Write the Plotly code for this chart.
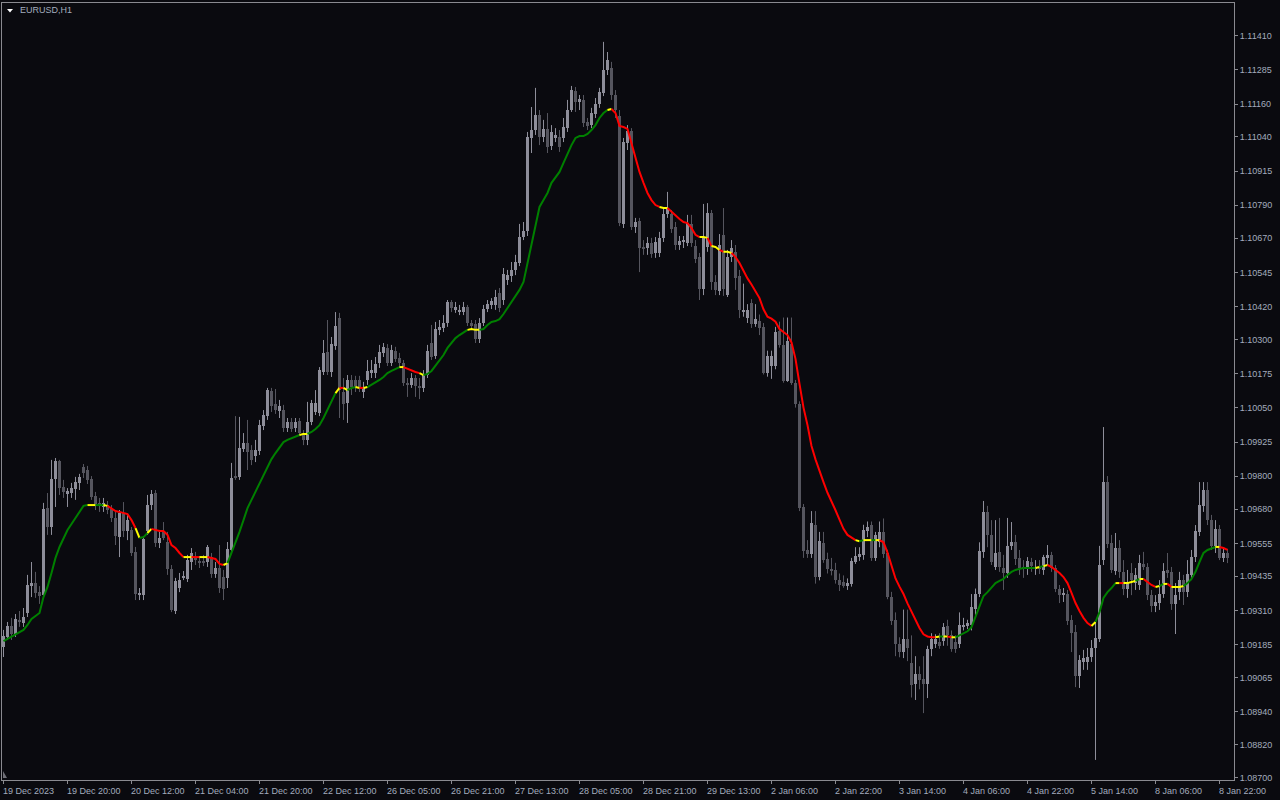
import plotly.graph_objects as go

# ---------------- data (EURUSD H1) ----------------
opens = [
 1.09177,1.09213,1.09253,1.09224,1.09275,1.09264,1.09301,1.09399,1.09410,1.09377,
 1.09366,1.09684,1.09615,1.09790,1.09856,1.09761,1.09739,1.09739,1.09754,1.09776,
 1.09834,1.09823,1.09790,1.09728,1.09703,1.09688,1.09695,1.09681,1.09648,1.09578,
 1.09666,1.09600,1.09604,1.09524,1.09366,1.09366,1.09600,1.09695,1.09739,1.09556,
 1.09597,1.09560,1.09461,1.09308,1.09392,1.09429,1.09425,1.09487,1.09505,1.09491,
 1.09491,1.09487,1.09505,1.09443,1.09465,1.09433,1.09429,1.09531,1.09798,1.09798,
 1.09900,1.09922,1.09896,1.09874,1.09893,1.09984,1.10020,1.10112,1.10064,1.10039,
 1.10042,1.09977,1.09998,1.09977,1.10002,1.09958,1.09933,1.09998,1.10035,1.10031,
 1.10181,1.10254,1.10181,1.10276,1.10378,1.10108,1.10068,1.10152,1.10152,1.10152,
 1.10108,1.10152,1.10181,1.10177,1.10214,1.10251,1.10269,1.10214,1.10258,1.10232,
 1.10214,1.10141,1.10134,1.10159,1.10130,1.10123,1.10170,1.10287,1.10240,1.10335,
 1.10342,1.10360,1.10437,1.10408,1.10400,1.10400,1.10419,1.10360,1.10356,1.10302,
 1.10360,1.10411,1.10426,1.10426,1.10470,1.10444,1.10517,1.10532,1.10554,1.10579,
 1.10674,1.10696,1.11036,1.11065,1.11120,1.11040,1.11069,1.11007,1.11036,1.11040,
 1.11036,1.11072,1.11138,1.11208,1.11167,1.11175,1.11094,1.11083,1.11124,1.11160,
 1.11200,1.11284,1.11292,1.11193,1.11116,1.10722,1.11018,1.11061,1.10711,1.10733,
 1.10638,1.10634,1.10652,1.10616,1.10616,1.10671,1.10758,1.10758,1.10711,1.10645,
 1.10656,1.10652,1.10722,1.10641,1.10601,1.10484,1.10638,1.10762,1.10510,1.10477,
 1.10682,1.10462,1.10601,1.10620,1.10532,1.10399,1.10380,1.10433,1.10356,1.10369,
 1.10346,1.10179,1.10202,1.10202,1.10330,1.10278,1.10149,1.10285,1.10142,1.10065,
 1.09688,1.09532,1.09518,1.09623,1.09431,1.09555,1.09499,1.09461,1.09457,1.09423,
 1.09415,1.09401,1.09408,1.09488,1.09506,1.09514,1.09601,1.09623,1.09502,1.09559,
 1.09597,1.09521,1.09359,1.09276,1.09189,1.09159,1.09207,1.09117,1.09042,1.09079,
 1.09060,1.09042,1.09170,1.09189,1.09196,1.09200,1.09253,1.09219,1.09193,1.09189,
 1.09249,1.09253,1.09257,1.09317,1.09370,1.09525,1.09669,1.09586,1.09469,1.09524,
 1.09465,1.09447,1.09546,1.09560,1.09502,1.09469,1.09465,1.09487,1.09461,1.09469,
 1.09458,1.09502,1.09513,1.09465,1.09388,1.09366,1.09370,1.09275,1.09231,1.09071,
 1.09122,1.09122,1.09140,1.09173,1.09206,1.09494,1.09779,1.09556,1.09454,1.09538,
 1.09451,1.09388,1.09447,1.09410,1.09403,1.09480,1.09469,1.09366,1.09326,1.09337,
 1.09370,1.09458,1.09451,1.09334,1.09377,1.09421,1.09377,1.09440,1.09505,1.09597,
 1.09692,1.09750,1.09640,1.09546,1.09608,1.09502,1.09520,
]
highs = [
 1.09239,1.09268,1.09283,1.09297,1.09308,1.09319,1.09440,1.09487,1.09451,1.09399,
 1.09703,1.09739,1.09860,1.09867,1.09860,1.09787,1.09757,1.09776,1.09798,1.09809,
 1.09845,1.09838,1.09801,1.09743,1.09721,1.09721,1.09710,1.09695,1.09670,1.09677,
 1.09706,1.09659,1.09615,1.09542,1.09392,1.09582,1.09732,1.09750,1.09750,1.09604,
 1.09633,1.09597,1.09476,1.09429,1.09447,1.09454,1.09513,1.09538,1.09524,1.09509,
 1.09513,1.09549,1.09520,1.09487,1.09549,1.09458,1.09560,1.09849,1.10020,1.10017,
 1.09958,1.10006,1.09914,1.09933,1.10006,1.10042,1.10123,1.10123,1.10119,1.10079,
 1.10061,1.10013,1.10013,1.10013,1.10013,1.09969,1.10072,1.10079,1.10115,1.10199,
 1.10298,1.10371,1.10309,1.10400,1.10397,1.10159,1.10170,1.10170,1.10167,1.10167,
 1.10145,1.10225,1.10225,1.10236,1.10280,1.10287,1.10283,1.10280,1.10273,1.10251,
 1.10225,1.10159,1.10177,1.10170,1.10159,1.10188,1.10280,1.10353,1.10364,1.10371,
 1.10389,1.10444,1.10444,1.10437,1.10426,1.10437,1.10426,1.10371,1.10371,1.10378,
 1.10426,1.10444,1.10451,1.10481,1.10488,1.10561,1.10554,1.10583,1.10609,1.10722,
 1.10729,1.11058,1.11149,1.11219,1.11138,1.11102,1.11127,1.11083,1.11072,1.11065,
 1.11109,1.11175,1.11226,1.11222,1.11193,1.11193,1.11109,1.11146,1.11182,1.11219,
 1.11387,1.11350,1.11314,1.11211,1.11138,1.11036,1.11083,1.11072,1.10744,1.10744,
 1.10663,1.10674,1.10671,1.10674,1.10693,1.10780,1.10839,1.10773,1.10729,1.10678,
 1.10678,1.10755,1.10755,1.10663,1.10616,1.10795,1.10798,1.10773,1.10535,1.10685,
 1.10780,1.10627,1.10663,1.10645,1.10554,1.10504,1.10429,1.10447,1.10429,1.10391,
 1.10360,1.10259,1.10259,1.10346,1.10365,1.10380,1.10380,1.10380,1.10152,1.10074,
 1.09699,1.09567,1.09673,1.09673,1.09597,1.09597,1.09521,1.09502,1.09484,1.09445,
 1.09438,1.09427,1.09502,1.09541,1.09541,1.09623,1.09635,1.09635,1.09597,1.09635,
 1.09646,1.09532,1.09378,1.09303,1.09212,1.09313,1.09313,1.09219,1.09143,1.09106,
 1.09143,1.09181,1.09227,1.09223,1.09227,1.09264,1.09276,1.09237,1.09219,1.09303,
 1.09283,1.09276,1.09370,1.09390,1.09559,1.09710,1.09692,1.09640,1.09640,1.09648,
 1.09513,1.09648,1.09633,1.09586,1.09531,1.09494,1.09505,1.09502,1.09494,1.09494,
 1.09513,1.09549,1.09524,1.09476,1.09403,1.09392,1.09385,1.09293,1.09257,1.09147,
 1.09166,1.09173,1.09202,1.09268,1.09546,1.09980,1.09801,1.09586,1.09593,1.09567,
 1.09494,1.09458,1.09483,1.09465,1.09513,1.09524,1.09483,1.09385,1.09366,1.09421,
 1.09483,1.09520,1.09469,1.09410,1.09451,1.09440,1.09494,1.09531,1.09622,1.09779,
 1.09779,1.09779,1.09659,1.09640,1.09622,1.09538,1.09535,
]
lows = [
 1.09140,1.09202,1.09202,1.09213,1.09250,1.09250,1.09286,1.09359,1.09356,1.09334,
 1.09356,1.09586,1.09586,1.09688,1.09732,1.09721,1.09688,1.09721,1.09714,1.09750,
 1.09794,1.09772,1.09714,1.09677,1.09670,1.09670,1.09662,1.09633,1.09549,1.09505,
 1.09578,1.09567,1.09509,1.09348,1.09348,1.09348,1.09586,1.09677,1.09542,1.09538,
 1.09567,1.09440,1.09304,1.09297,1.09377,1.09421,1.09414,1.09458,1.09476,1.09465,
 1.09472,1.09469,1.09429,1.09429,1.09374,1.09348,1.09392,1.09520,1.09787,1.09787,
 1.09889,1.09823,1.09841,1.09852,1.09878,1.09969,1.10006,1.10035,1.10028,1.10013,
 1.09962,1.09962,1.09962,1.09962,1.09947,1.09914,1.09914,1.09987,1.10024,1.10020,
 1.10170,1.10170,1.10163,1.10262,1.10013,1.10006,1.09995,1.10097,1.10108,1.10108,
 1.10086,1.10134,1.10159,1.10159,1.10196,1.10236,1.10203,1.10203,1.10218,1.10196,
 1.10130,1.10090,1.10123,1.10090,1.10082,1.10108,1.10159,1.10225,1.10229,1.10316,
 1.10327,1.10346,1.10400,1.10397,1.10389,1.10389,1.10349,1.10335,1.10287,1.10287,
 1.10349,1.10400,1.10411,1.10408,1.10400,1.10426,1.10499,1.10510,1.10535,1.10568,
 1.10663,1.10678,1.10981,1.11047,1.11010,1.11021,1.10981,1.10992,1.11021,1.10985,
 1.11021,1.11058,1.11131,1.11131,1.11138,1.11076,1.11065,1.11072,1.11109,1.11146,
 1.11189,1.11266,1.11175,1.11109,1.10714,1.10707,1.10992,1.10700,1.10689,1.10546,
 1.10609,1.10609,1.10598,1.10598,1.10601,1.10656,1.10744,1.10689,1.10627,1.10627,
 1.10634,1.10641,1.10638,1.10579,1.10444,1.10462,1.10620,1.10481,1.10462,1.10462,
 1.10459,1.10455,1.10583,1.10481,1.10378,1.10383,1.10360,1.10342,1.10346,1.10316,
 1.10172,1.10164,1.10156,1.10191,1.10270,1.10142,1.10145,1.10134,1.10051,1.09673,
 1.09502,1.09502,1.09502,1.09408,1.09420,1.09484,1.09445,1.09438,1.09408,1.09381,
 1.09393,1.09385,1.09397,1.09480,1.09491,1.09495,1.09578,1.09491,1.09491,1.09541,
 1.09502,1.09351,1.09257,1.09143,1.09139,1.09136,1.09125,1.08992,1.08983,1.09022,
 1.08935,1.08990,1.09143,1.09173,1.09170,1.09181,1.09181,1.09159,1.09155,1.09173,
 1.09237,1.09242,1.09237,1.09294,1.09359,1.09502,1.09541,1.09476,1.09458,1.09451,
 1.09385,1.09429,1.09531,1.09476,1.09440,1.09429,1.09440,1.09451,1.09440,1.09443,
 1.09440,1.09476,1.09451,1.09377,1.09337,1.09341,1.09257,1.09158,1.09030,1.09027,
 1.09093,1.09093,1.09122,1.08764,1.09195,1.09476,1.09538,1.09447,1.09440,1.09429,
 1.09366,1.09356,1.09366,1.09385,1.09385,1.09458,1.09348,1.09304,1.09304,1.09312,
 1.09356,1.09429,1.09312,1.09224,1.09348,1.09330,1.09359,1.09421,1.09487,1.09582,
 1.09670,1.09622,1.09531,1.09520,1.09494,1.09487,1.09483,
]
closes = [
 1.09217,1.09253,1.09224,1.09279,1.09268,1.09286,1.09403,1.09410,1.09374,1.09363,
 1.09681,1.09615,1.09790,1.09856,1.09757,1.09743,1.09746,1.09757,1.09779,1.09798,
 1.09812,1.09787,1.09725,1.09699,1.09695,1.09703,1.09677,1.09648,1.09582,1.09666,
 1.09600,1.09640,1.09520,1.09370,1.09374,1.09571,1.09695,1.09735,1.09556,1.09575,
 1.09575,1.09461,1.09312,1.09418,1.09421,1.09433,1.09494,1.09520,1.09494,1.09483,
 1.09487,1.09542,1.09443,1.09465,1.09392,1.09388,1.09535,1.09794,1.09794,1.09904,
 1.09922,1.09889,1.09860,1.09896,1.09987,1.10024,1.10115,1.10057,1.10042,1.10057,
 1.09977,1.09998,1.09973,1.09998,1.09958,1.09933,1.09998,1.10068,1.10068,1.10188,
 1.10251,1.10181,1.10283,1.10349,1.10115,1.10064,1.10152,1.10126,1.10126,1.10123,
 1.10123,1.10185,1.10188,1.10210,1.10254,1.10273,1.10214,1.10262,1.10229,1.10214,
 1.10141,1.10134,1.10159,1.10130,1.10123,1.10170,1.10258,1.10236,1.10338,1.10346,
 1.10360,1.10437,1.10415,1.10419,1.10408,1.10419,1.10360,1.10349,1.10302,1.10360,
 1.10411,1.10430,1.10440,1.10455,1.10415,1.10539,1.10535,1.10554,1.10583,1.10674,
 1.10696,1.11040,1.11065,1.11120,1.11040,1.11069,1.11003,1.11058,1.11047,1.11003,
 1.11076,1.11138,1.11211,1.11167,1.11178,1.11091,1.11080,1.11127,1.11160,1.11204,
 1.11284,1.11321,1.11193,1.11138,1.10725,1.11021,1.11061,1.10711,1.10729,1.10634,
 1.10634,1.10652,1.10612,1.10656,1.10671,1.10758,1.10777,1.10704,1.10645,1.10660,
 1.10660,1.10725,1.10652,1.10594,1.10484,1.10674,1.10762,1.10510,1.10481,1.10645,
 1.10484,1.10601,1.10634,1.10525,1.10408,1.10407,1.10407,1.10356,1.10376,1.10342,
 1.10179,1.10240,1.10240,1.10327,1.10278,1.10149,1.10293,1.10142,1.10065,1.09685,
 1.09529,1.09518,1.09628,1.09431,1.09563,1.09495,1.09461,1.09457,1.09423,1.09404,
 1.09401,1.09411,1.09491,1.09510,1.09518,1.09605,1.09616,1.09502,1.09586,1.09597,
 1.09518,1.09359,1.09272,1.09189,1.09159,1.09207,1.09173,1.09038,1.09079,1.09056,
 1.09042,1.09170,1.09207,1.09204,1.09181,1.09249,1.09219,1.09170,1.09170,1.09257,
 1.09257,1.09264,1.09321,1.09370,1.09529,1.09669,1.09586,1.09487,1.09520,1.09469,
 1.09447,1.09546,1.09560,1.09498,1.09465,1.09461,1.09491,1.09472,1.09469,1.09461,
 1.09505,1.09513,1.09465,1.09388,1.09366,1.09374,1.09271,1.09228,1.09071,1.09129,
 1.09136,1.09140,1.09173,1.09209,1.09476,1.09779,1.09553,1.09458,1.09538,1.09451,
 1.09388,1.09410,1.09421,1.09440,1.09483,1.09469,1.09366,1.09326,1.09341,1.09370,
 1.09454,1.09447,1.09334,1.09366,1.09421,1.09377,1.09443,1.09505,1.09600,1.09695,
 1.09750,1.09640,1.09546,1.09608,1.09502,1.09520,1.09502,
]
# smoothed trend line drawn over the candles
ma_values = [
 1.09198,1.09206,1.09213,1.09220,1.09228,1.09239,1.09257,1.09279,1.09290,1.09301,
 1.09359,1.09396,1.09447,1.09502,1.09542,1.09575,1.09604,1.09626,1.09648,1.09670,
 1.09692,1.09695,1.09695,1.09695,1.09695,1.09695,1.09692,1.09684,1.09673,1.09670,
 1.09666,1.09662,1.09640,1.09611,1.09575,1.09578,1.09593,1.09608,1.09604,1.09600,
 1.09600,1.09586,1.09549,1.09538,1.09520,1.09505,1.09505,1.09505,1.09505,1.09505,
 1.09505,1.09505,1.09502,1.09498,1.09480,1.09476,1.09483,1.09520,1.09556,1.09597,
 1.09640,1.09684,1.09714,1.09743,1.09772,1.09801,1.09834,1.09863,1.09885,1.09907,
 1.09925,1.09933,1.09940,1.09944,1.09951,1.09955,1.09955,1.09962,1.09973,1.09987,
 1.10013,1.10042,1.10072,1.10104,1.10123,1.10123,1.10115,1.10123,1.10126,1.10123,
 1.10123,1.10126,1.10134,1.10141,1.10152,1.10163,1.10177,1.10185,1.10192,1.10199,
 1.10199,1.10192,1.10185,1.10181,1.10177,1.10170,1.10174,1.10185,1.10203,1.10225,
 1.10243,1.10269,1.10287,1.10305,1.10316,1.10327,1.10335,1.10338,1.10335,1.10335,
 1.10338,1.10353,1.10364,1.10367,1.10374,1.10393,1.10415,1.10433,1.10455,1.10481,
 1.10510,1.10579,1.10652,1.10725,1.10784,1.10809,1.10835,1.10872,1.10890,1.10912,
 1.10945,1.10981,1.11010,1.11036,1.11043,1.11043,1.11051,1.11065,1.11083,1.11109,
 1.11127,1.11138,1.11142,1.11127,1.11080,1.11076,1.11069,1.11018,1.10963,1.10912,
 1.10872,1.10835,1.10809,1.10791,1.10784,1.10780,1.10780,1.10766,1.10751,1.10740,
 1.10729,1.10725,1.10707,1.10682,1.10674,1.10674,1.10671,1.10641,1.10638,1.10627,
 1.10620,1.10620,1.10616,1.10601,1.10579,1.10550,1.10523,1.10501,1.10478,1.10451,
 1.10410,1.10383,1.10376,1.10365,1.10338,1.10327,1.10316,1.10289,1.10229,1.10138,
 1.10051,1.09987,1.09911,1.09862,1.09816,1.09779,1.09740,1.09710,1.09676,1.09642,
 1.09608,1.09586,1.09575,1.09567,1.09563,1.09567,1.09567,1.09567,1.09567,1.09567,
 1.09559,1.09521,1.09477,1.09427,1.09397,1.09370,1.09336,1.09306,1.09276,1.09246,
 1.09223,1.09215,1.09212,1.09212,1.09215,1.09215,1.09215,1.09212,1.09212,1.09219,
 1.09227,1.09234,1.09249,1.09287,1.09332,1.09363,1.09377,1.09392,1.09410,1.09418,
 1.09425,1.09440,1.09451,1.09458,1.09461,1.09465,1.09465,1.09465,1.09465,1.09469,
 1.09472,1.09476,1.09469,1.09458,1.09447,1.09432,1.09410,1.09374,1.09337,1.09308,
 1.09283,1.09264,1.09253,1.09268,1.09304,1.09356,1.09377,1.09392,1.09410,1.09410,
 1.09410,1.09410,1.09414,1.09418,1.09425,1.09425,1.09414,1.09403,1.09396,1.09399,
 1.09407,1.09407,1.09396,1.09396,1.09396,1.09399,1.09410,1.09425,1.09451,1.09487,
 1.09520,1.09531,1.09538,1.09542,1.09542,1.09538,1.09531,
]
# colour state of the trend line per bar: G = rising, R = falling, Y = flat / turning
trend_runs = [
 ("G",22),("Y",2),("G",2),("Y",1),("R",7),("Y",1),("G",2),("Y",1),("R",8),("Y",2),
 ("R",2),("Y",2),("R",4),("Y",1),("G",18),("Y",2),("G",7),("Y",1),("R",1),("Y",1),
 ("G",2),("Y",1),("R",1),("Y",1),("G",8),("Y",1),("R",4),("Y",1),("G",11),("Y",3),
 ("G",32),("Y",1),("R",12),("Y",2),("R",8),("Y",2),("R",1),("Y",2),("R",1),("Y",2),
 ("R",31),("Y",1),("G",1),("Y",2),("G",1),("Y",1),("R",14),("Y",1),("G",1),("Y",1),
 ("R",1),("Y",1),("G",20),("Y",1),("G",1),("Y",1),("R",11),("Y",1),("G",5),("Y",1),
 ("R",1),("Y",3),("G",1),("Y",1),("R",3),("Y",1),("G",1),("Y",1),("R",1),("Y",3),
 ("G",8),("Y",1),("R",2),
]
x_tick_bars = [0,16,32,48,64,80,96,112,128,144,160,176,192,208,224,240,256,272,288,304]
x_tick_labels = ["19 Dec 2023","19 Dec 20:00","20 Dec 12:00","21 Dec 04:00","21 Dec 20:00",
                 "22 Dec 12:00","26 Dec 05:00","26 Dec 21:00","27 Dec 13:00","28 Dec 05:00",
                 "28 Dec 21:00","29 Dec 13:00","2 Jan 06:00","2 Jan 22:00","3 Jan 14:00",
                 "4 Jan 06:00","4 Jan 22:00","5 Jan 14:00","8 Jan 06:00","8 Jan 22:00"]
y_tick_labels = ["1.11410","1.11285","1.11160","1.11040","1.10915","1.10790","1.10670",
                 "1.10545","1.10420","1.10300","1.10175","1.10050","1.09925","1.09800",
                 "1.09680","1.09555","1.09435","1.09310","1.09185","1.09065","1.08940",
                 "1.08820","1.08700"]
symbol_title = "EURUSD,H1"

# ---------------- styling ----------------
BG = "#0a0a0f"
BULL = "#8e8e9a"
BEAR = "#55555e"
FRAME = "#8a8a90"
TXT = "#a3acbd"
FONT = "Liberation Sans, Arial, sans-serif"
LINE_COL = {"G": "#008000", "R": "#ff0000", "Y": "#ffff00"}

n = min(len(opens), len(highs), len(lows), len(closes))
MIN_BODY = 0.00003

fig = go.Figure()

# wicks
for is_bull, col in ((True, BULL), (False, BEAR)):
    wx, wy = [], []
    for i in range(n):
        if (closes[i] >= opens[i]) == is_bull:
            wx += [i, i, None]
            wy += [lows[i], highs[i], None]
    fig.add_trace(go.Scatter(x=wx, y=wy, mode="lines", line=dict(color=col, width=1),
                             hoverinfo="skip", showlegend=False))

# bodies
for is_bull, col in ((True, BULL), (False, BEAR)):
    bx, base, hgt = [], [], []
    for i in range(n):
        if (closes[i] >= opens[i]) == is_bull:
            lo = min(opens[i], closes[i])
            h = abs(closes[i] - opens[i])
            if h < MIN_BODY:
                lo -= (MIN_BODY - h) / 2
                h = MIN_BODY
            bx.append(i); base.append(lo); hgt.append(h)
    fig.add_trace(go.Bar(x=bx, y=hgt, base=base, width=0.75, marker=dict(color=col, line=dict(width=0)),
                         hoverinfo="skip", showlegend=False))

# trend line segments
state = []
for code, cnt in trend_runs:
    state += [code] * cnt
m = min(len(ma_values), len(state))
i = 1
while i < m:
    c = state[i]
    j = i
    while j + 1 < m and state[j + 1] == c:
        j += 1
    xs = list(range(i - 1, j + 1))
    fig.add_trace(go.Scatter(x=xs, y=[ma_values[k] for k in xs], mode="lines",
                             line=dict(color=LINE_COL[c], width=2), hoverinfo="skip", showlegend=False))
    i = j + 1

# x labels (left aligned at their tick like the terminal does)
annotations = []
for b, t in zip(x_tick_bars, x_tick_labels):
    annotations.append(dict(x=b, y=0, xref="x", yref="paper", text=t, showarrow=False,
                            xanchor="left", yanchor="top", xshift=-3, yshift=-4,
                            font=dict(family=FONT, size=9, color=TXT)))
annotations.append(dict(x=16 / 1232, y=0.9905, xref="paper", yref="paper", text=symbol_title,
                        showarrow=False, xanchor="left", yanchor="middle",
                        font=dict(family=FONT, size=9, color=TXT)))

shapes = [
    dict(type="path", xref="paper", yref="paper",
         path="M 0.00406 0.99228 L 0.00893 0.99228 L 0.00649 0.98777 Z",
         fillcolor="#ffffff", line=dict(width=0)),
    dict(type="path", xref="paper", yref="paper",
         path="M 0.0008 0.0116 L 0.0008 0.0026 L 0.0041 0.0026 Z",
         fillcolor="#707078", line=dict(width=0)),
]

fig.update_layout(
    width=1280, height=800,
    margin=dict(l=2, r=46, t=3, b=20),
    paper_bgcolor=BG, plot_bgcolor=BG,
    showlegend=False, barmode="overlay", bargap=0,
    annotations=annotations, shapes=shapes,
    xaxis=dict(range=[-0.375, 307.625], showgrid=False, zeroline=False,
               showline=True, mirror=True, linecolor=FRAME, linewidth=1,
               ticks="outside", ticklen=3, tickcolor=FRAME,
               tickvals=x_tick_bars, ticktext=[""] * len(x_tick_bars), fixedrange=True),
    yaxis=dict(side="right", range=[1.086907, 1.11529], showgrid=False, zeroline=False,
               showline=True, mirror=True, linecolor=FRAME, linewidth=1,
               ticks="outside", ticklen=3, tickcolor=FRAME,
               tickvals=[float(s) for s in y_tick_labels], ticktext=y_tick_labels,
               tickfont=dict(family=FONT, size=9, color=TXT), fixedrange=True),
)

fig.write_html(
    "out.html",
    config={"displayModeBar": False},
    post_script="document.body.style.margin='0';document.body.style.overflow='hidden';"
                "document.body.style.background='" + BG + "';",
)
